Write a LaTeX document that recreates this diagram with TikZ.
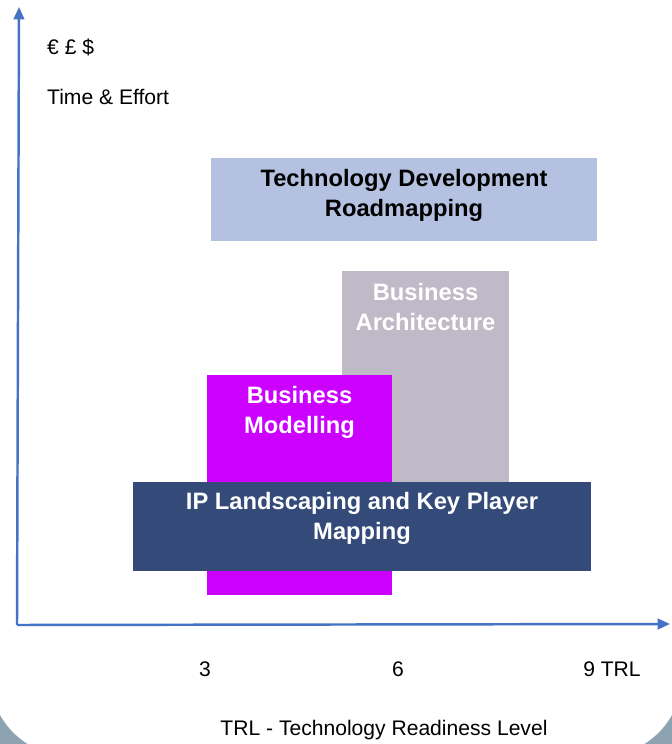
\documentclass[tikz,border=0pt]{standalone}
\usepackage{fontspec}
\setmainfont{Liberation Sans}
\usepackage{tikz}
\usetikzlibrary{arrows.meta}

\definecolor{axisblue}{HTML}{4472C4}
\definecolor{roadblue}{HTML}{B4C1E0}
\definecolor{archgrey}{HTML}{C0B9C7}
\definecolor{modmagenta}{HTML}{CC00FF}
\definecolor{ipnavy}{HTML}{344B7A}
\definecolor{slideedge}{HTML}{8EA3B1}

\begin{document}
\begin{tikzpicture}[
    phase/.style={inner sep=0pt, draw=none},
    boxtext/.style={align=center, font=\fontsize{13.5}{17}\selectfont\bfseries},
    axislabel/.style={font=\fontsize{12}{14}\selectfont},
    axis/.style={axisblue, line width=1.4pt, -{Triangle[length=7pt,width=6pt]}}
  ]

    % slide background with rounded lower corners
    \useasboundingbox (0,0) rectangle (13.44,14.88);
    \fill[slideedge] (0,0) rectangle (13.44,14.88);
    \fill[white, rounded corners=1.6cm] (-0.2,-0.24) rectangle (13.64,20);

    % boxes
    \node[phase, fill=roadblue, minimum width=7.72cm, minimum height=1.66cm] (Road) at (8.08,10.89) {};
    \node[phase, fill=archgrey, minimum width=3.34cm, minimum height=4.24cm] (Arch) at (8.51,7.34) {};
    \node[phase, fill=modmagenta, minimum width=3.70cm, minimum height=4.40cm] (Model) at (5.99,5.18) {};
    \node[phase, fill=ipnavy, minimum width=9.16cm, minimum height=1.78cm] (IP) at (7.24,4.35) {};

    \node[boxtext, text=black] (RoadTxt) at (8.08,10.98) {Technology Development\\Roadmapping};
    \node[boxtext, text=white] (ArchTxt) at (8.51,8.74) {Business\\Architecture};
    \node[boxtext, text=white] (ModelTxt) at (5.99,6.64) {Business\\Modelling};
    \node[boxtext, text=white] (IPTxt) at (7.24,4.52) {IP Landscaping and Key Player\\Mapping};

    % axes
    \coordinate (O) at (0.34,2.38);
    \coordinate (Ytip) at (0.38,14.74);
    \coordinate (Xtip) at (13.40,2.40);
    \draw[axis] (O) -- (Ytip);
    \draw[axis] (O) -- (Xtip);

    \node[axislabel, anchor=west] (Cost) at (0.82,13.94) {€ £ \$};
    \node[axislabel, anchor=west] (Effort) at (0.82,12.94) {Time \& Effort};
    \node[axislabel] (Three) at (4.10,1.50) {3};
    \node[axislabel] (Six) at (7.96,1.50) {6};
    \node[axislabel] (Nine) at (12.24,1.50) {9 TRL};
    \node[axislabel] (TRL) at (7.68,0.28) {TRL - Technology Readiness Level};

\end{tikzpicture}
\end{document}
